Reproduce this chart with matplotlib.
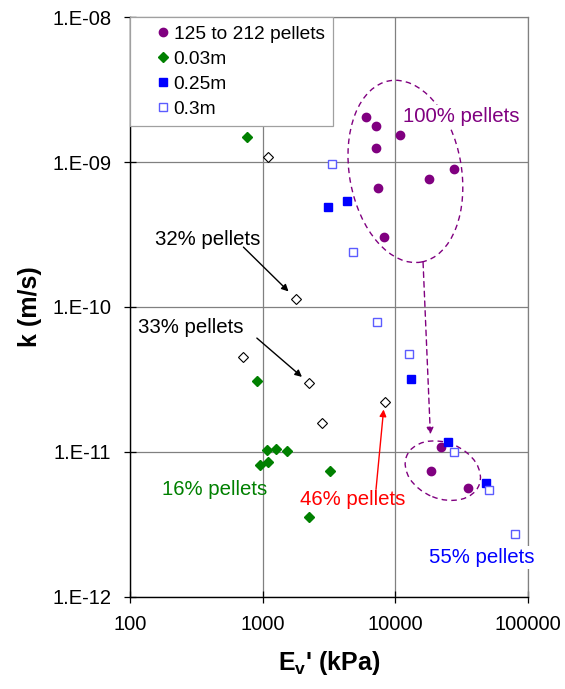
import matplotlib
matplotlib.use('Agg')
import matplotlib.pyplot as plt
from matplotlib.patches import Ellipse
import matplotlib.transforms as mtransforms
from matplotlib.ticker import FixedLocator, FuncFormatter, NullLocator

plt.rcParams['font.family'] = ['Liberation Sans', 'DejaVu Sans']
plt.rcParams['mathtext.fontset'] = 'custom'
plt.rcParams['mathtext.rm'] = 'Liberation Sans'
plt.rcParams['mathtext.bf'] = 'Liberation Sans:bold'

# 125 to 212 pellets (purple circles)
pel_x = [6040, 7190, 10770, 7190, 7400, 8260, 17830, 27900, 22240, 18590, 35390]
pel_k = [2.04e-9, 1.79e-9, 1.54e-9, 1.26e-9, 6.6e-10, 3.02e-10, 7.67e-10, 9.0e-10,
         1.076e-11, 7.43e-12, 5.65e-12]

# 0.03m (green diamonds)
d003_x = [768, 914, 1069, 1258, 1523, 1106, 958, 3231, 2217]
d003_k = [1.48e-9, 3.09e-11, 1.026e-11, 1.054e-11, 1.01e-11, 8.53e-12, 8.05e-12,
          7.43e-12, 3.54e-12]

# 0.25m (filled blue squares)
d025_x = [3120, 4340, 13210, 25120, 48400]
d025_k = [4.92e-10, 5.41e-10, 3.19e-11, 1.16e-11, 6.14e-12]

# 0.3m (open blue squares)
d03_x = [3330, 4760, 7280, 12680, 27560, 51200, 79500]
d03_k = [9.78e-10, 2.39e-10, 7.92e-11, 4.76e-11, 1.0e-11, 5.47e-12, 2.72e-12]

# open diamonds (not in legend)
mix_x = [1106, 1781, 713, 2244, 2798, 8360]
mix_k = [1.09e-9, 1.14e-10, 4.49e-11, 2.99e-11, 1.58e-11, 2.2e-11]

x_ticks = [100, 1000, 10000, 100000]
y_ticks = [1e-12, 1e-11, 1e-10, 1e-9, 1e-8]
y_tick_labels = ['1.E-12', '1.E-11', '1.E-10', '1.E-09', '1.E-08']

PURPLE = '#800080'
GREEN = '#008000'
BLUE = '#0000ff'
GRID = '#808080'

fig = plt.figure(figsize=(5.65, 6.89), dpi=100)
ax = fig.add_axes([0.2301, 0.134, 0.7044, 0.8409])
ax.set_xscale('log')
ax.set_yscale('log')
ax.set_xlim(100, 100000)
ax.set_ylim(1e-12, 1e-8)

ax.grid(True, which='major', color=GRID, linewidth=0.9, zorder=0)
ax.set_axisbelow(True)
for side in ['top', 'right']:
    ax.spines[side].set_color(GRID)
    ax.spines[side].set_linewidth(0.9)
for side in ['left', 'bottom']:
    ax.spines[side].set_color('black')
    ax.spines[side].set_linewidth(1.0)

ax.xaxis.set_major_locator(FixedLocator(x_ticks))
ax.xaxis.set_minor_locator(NullLocator())
ax.xaxis.set_major_formatter(FuncFormatter(lambda v, p: '%d' % round(v)))
ax.set_yticks(y_ticks)
ax.set_yticklabels(y_tick_labels)
ax.yaxis.set_minor_locator(NullLocator())
ax.tick_params(axis='both', which='major', direction='inout', length=9, width=0.9,
               labelsize=14.5, color='black')
ax.tick_params(axis='x', pad=9)
ax.tick_params(axis='y', pad=9)

ax.plot(pel_x, pel_k, linestyle='none', marker='o', markersize=6, color=PURPLE,
        label='125 to 212 pellets', zorder=4)
ax.plot(d003_x, d003_k, linestyle='none', marker='D', markersize=5, color=GREEN,
        label='0.03m', zorder=4)
ax.plot(d025_x, d025_k, linestyle='none', marker='s', markersize=6, color=BLUE,
        label='0.25m', zorder=4)
ax.plot(d03_x, d03_k, linestyle='none', marker='s', markersize=6, markerfacecolor='white',
        markeredgecolor='#5c5cff', markeredgewidth=1.0, label='0.3m', zorder=4)
ax.plot(mix_x, mix_k, linestyle='none', marker='D', markersize=5, markerfacecolor='white',
        markeredgecolor='black', markeredgewidth=0.8, label='_nolegend_', zorder=4)

leg = ax.legend(loc='upper left', bbox_to_anchor=(0, 1), borderaxespad=0, fontsize=13.8,
                fancybox=False, framealpha=1, edgecolor='#a0a0a0', handlelength=2.6,
                handletextpad=-0.75, labelspacing=0.4, borderpad=0.42, numpoints=1)
leg.get_frame().set_linewidth(0.9)

# dashed ellipses, sized in inches and placed in axes fraction
big = Ellipse((0, 0), 1.12, 1.84, angle=10, fill=False, edgecolor=PURPLE,
              linestyle=(0, (4, 3)), linewidth=1.0,
              transform=fig.dpi_scale_trans + mtransforms.ScaledTranslation(0.692, 0.734, ax.transAxes),
              zorder=3)
small = Ellipse((0, 0), 0.78, 0.56, angle=-22, fill=False, edgecolor=PURPLE,
                linestyle=(0, (4, 3)), linewidth=1.0,
                transform=fig.dpi_scale_trans + mtransforms.ScaledTranslation(0.786, 0.2175, ax.transAxes),
                zorder=3)
ax.add_patch(big)
ax.add_patch(small)

ax.annotate('', xy=(18370, 1.32e-11), xytext=(16180, 2.04e-10),
            arrowprops=dict(arrowstyle='-|>', color=PURPLE, lw=1.0, linestyle=(0, (4, 3)),
                            mutation_scale=10, shrinkA=0, shrinkB=0), zorder=3)

ax.annotate('', xy=(1567, 1.28e-10), xytext=(716, 2.59e-10),
            arrowprops=dict(arrowstyle='-|>', color='black', lw=1.0,
                            mutation_scale=10, shrinkA=0, shrinkB=0))
ax.annotate('', xy=(1977, 3.29e-11), xytext=(904, 6.1e-11),
            arrowprops=dict(arrowstyle='-|>', color='black', lw=1.0,
                            mutation_scale=10, shrinkA=0, shrinkB=0))
ax.annotate('', xy=(8160, 1.96e-11), xytext=(7150, 5.5e-12),
            arrowprops=dict(arrowstyle='-|>', color='red', lw=1.0,
                            mutation_scale=10, shrinkA=0, shrinkB=0))

ax.text(154, 2.91e-10, '32% pellets', fontsize=14.7, color='black', ha='left', va='center')
ax.text(115, 7.2e-11, '33% pellets', fontsize=14.7, color='black', ha='left', va='center')
ax.text(174, 5.5e-12, '16% pellets', fontsize=14.7, color=GREEN, ha='left', va='center')
ax.text(1919, 4.69e-12, '46% pellets', fontsize=14.7, color='red', ha='left', va='center')
ax.text(11480, 2.05e-9, '100% pellets', fontsize=14.7, color=PURPLE, ha='left', va='center',
        bbox=dict(facecolor='white', edgecolor='none', pad=1.5), zorder=6, clip_on=False)
ax.text(18060, 1.87e-12, '55% pellets', fontsize=14.7, color=BLUE, ha='left', va='center',
        bbox=dict(facecolor='white', edgecolor='none', pad=1.5), zorder=6, clip_on=False)

ax.set_ylabel('k (m/s)', fontsize=18, fontweight='bold')
ax.yaxis.set_label_coords(-0.22, 0.5)
ax.set_xlabel(r"E$_\mathbf{v}$' (kPa)", fontsize=18, fontweight='bold')
ax.xaxis.set_label_coords(0.5, -0.09)

fig.savefig('out.png', dpi=100)
